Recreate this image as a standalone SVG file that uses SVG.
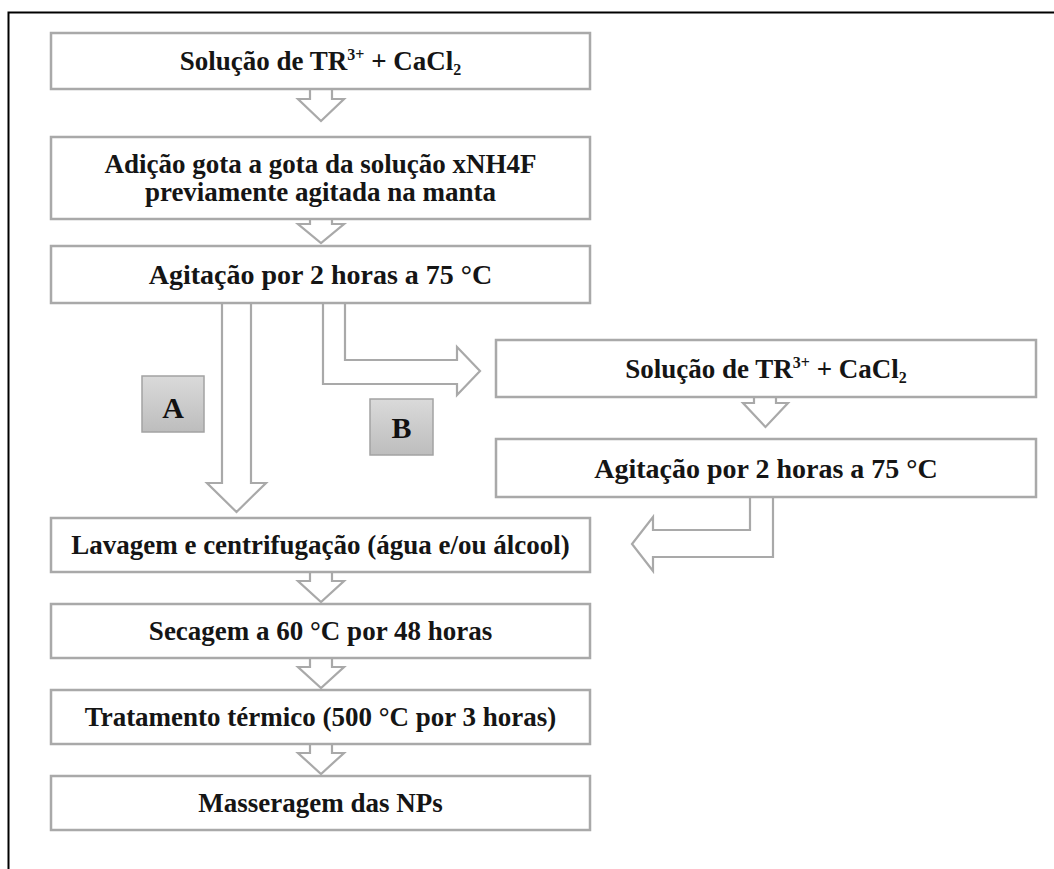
<svg xmlns="http://www.w3.org/2000/svg" width="1054" height="869" viewBox="0 0 1054 869">
<defs>
<linearGradient id="lblGrad" x1="0" y1="0" x2="0" y2="1">
<stop offset="0" stop-color="#dadada"/>
<stop offset="1" stop-color="#bdbdbd"/>
</linearGradient>
<style>
.box{fill:#ffffff;stroke:#a9a9a9;stroke-width:2.5}
.arr{fill:#ffffff;stroke:#a9a9a9;stroke-width:2.2;stroke-linejoin:miter}
.t{font-family:"Liberation Serif","Times New Roman",serif;font-weight:bold;font-size:27px;fill:#151515;text-anchor:middle}
.big{font-size:28px}
.lbl{fill:url(#lblGrad);stroke:#a3a3a3;stroke-width:1.5}
.lt{font-family:"Liberation Serif","Times New Roman",serif;font-weight:bold;font-size:30px;fill:#111;text-anchor:middle}
.sup{font-size:16px}
</style>
</defs>
<rect width="1054" height="869" fill="#ffffff"/>
<path d="M8.5,869 V12.5 H1054" fill="none" stroke="#000" stroke-width="2"/>

<g id="connectors">
<path class="arr" d="M310,89 V99 H298 L321,121 L344,99 H332 V89"/>
<path class="arr" d="M310,219 V224 H298 L321,243 L344,224 H332 V219"/>
<path class="arr" d="M222,303 V483 H207 L236.5,512 L266,483 H251 V303"/>
<path class="arr" d="M323,303 V384 H457 V395 L480,371 L457,347 V360 H345 V303"/>
<path class="arr" d="M754,397 V403 H743 L765.5,427 L788,403 H776 V397"/>
<path class="arr" d="M773,497 V557 H653 V571 L632,544 L653,517 V530 H750 V497"/>
<path class="arr" d="M310,572 V581 H298 L321,602 L344,581 H332 V572"/>
<path class="arr" d="M310,658 V667 H298 L321,688 L344,667 H332 V658"/>
<path class="arr" d="M310,744 V753 H298 L321,774 L344,753 H332 V744"/>
</g>

<g id="n1">
<rect class="box" x="51" y="33" width="539" height="56"/>
<text class="t" x="320.5" y="70">Solução de TR<tspan class="sup" dy="-10">3+</tspan><tspan dy="10"> + CaCl</tspan><tspan class="sup" dy="5">2</tspan></text>
</g>
<g id="n2">
<rect class="box" x="51" y="137" width="539" height="82"/>
<text class="t" x="320.5" y="173">Adição gota a gota da solução xNH4F</text>
<text class="t" x="320.5" y="201">previamente agitada na manta</text>
</g>
<g id="n3">
<rect class="box" x="51" y="246" width="539" height="57"/>
<text class="t big" x="320.5" y="284">Agitação por 2 horas a 75 °C</text>
</g>
<g id="labelA">
<rect class="lbl" x="142" y="376" width="62" height="56"/>
<text class="lt" x="173" y="418">A</text>
</g>
<g id="labelB">
<rect class="lbl" x="370" y="399" width="63" height="56"/>
<text class="lt" x="401.5" y="438">B</text>
</g>
<g id="r1">
<rect class="box" x="496" y="340" width="540" height="57"/>
<text class="t" x="766" y="378">Solução de TR<tspan class="sup" dy="-10">3+</tspan><tspan dy="10"> + CaCl</tspan><tspan class="sup" dy="5">2</tspan></text>
</g>
<g id="r2">
<rect class="box" x="496" y="439" width="540" height="58"/>
<text class="t big" x="766" y="478">Agitação por 2 horas a 75 °C</text>
</g>
<g id="n4">
<rect class="box" x="51" y="518" width="539" height="54"/>
<text class="t" x="320.5" y="554">Lavagem e centrifugação (água e/ou álcool)</text>
</g>
<g id="n5">
<rect class="box" x="51" y="604" width="539" height="54"/>
<text class="t" x="320.5" y="640">Secagem a 60 °C por 48 horas</text>
</g>
<g id="n6">
<rect class="box" x="51" y="690" width="539" height="54"/>
<text class="t" x="320.5" y="726">Tratamento térmico (500 °C por 3 horas)</text>
</g>
<g id="n7">
<rect class="box" x="51" y="776" width="539" height="54"/>
<text class="t" x="320.5" y="812">Masseragem das NPs</text>
</g>
</svg>
